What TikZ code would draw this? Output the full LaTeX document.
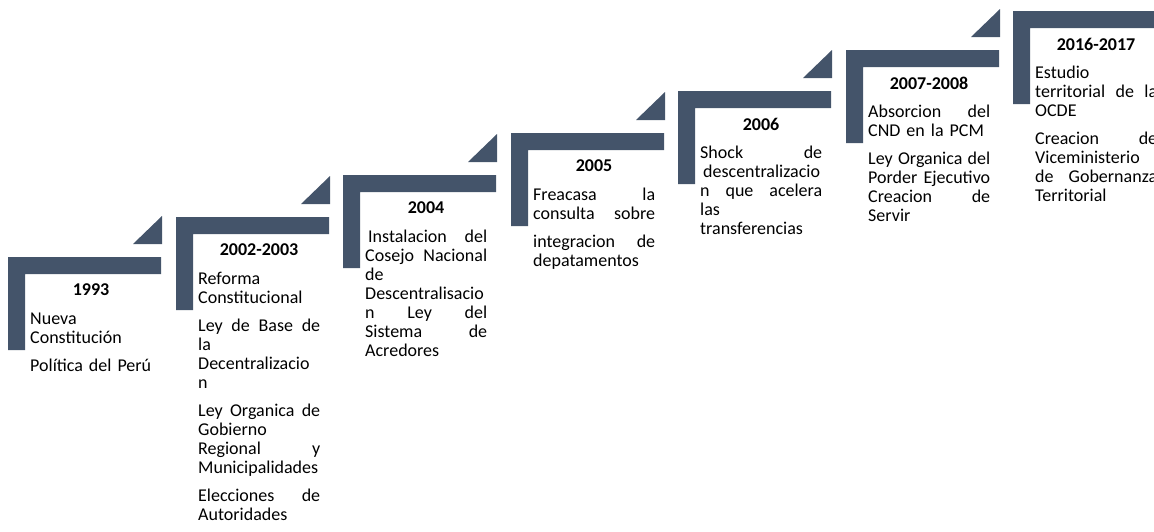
\documentclass[tikz,border=0pt]{standalone}
\usepackage{fontspec}
\setmainfont{Carlito}
\usepackage{xcolor}
\usepackage{tikz}
\definecolor{slate}{HTML}{44546A}

\begin{document}
\begin{tikzpicture}[
x=1pt, y=-1pt,
bar/.style={fill=slate},
tip/.style={fill=slate},
year/.style={inner sep=0, font=\fontsize{18}{19}\selectfont\bfseries},
body/.style={anchor=north west, inner sep=0, text width=122pt, align=left, font=\fontsize{18}{19}\selectfont}
]
\useasboundingbox (0,0) rectangle (1154,531);
% stairs
\fill[bar] (8,257) -- ++(153,0) -- ++(0,17) -- ++(-136,0) -- ++(0,76) -- ++(-17,0) -- cycle;
\fill[bar] (176,217) -- ++(153,0) -- ++(0,17) -- ++(-136,0) -- ++(0,76) -- ++(-17,0) -- cycle;
\fill[bar] (343,175) -- ++(153,0) -- ++(0,17) -- ++(-136,0) -- ++(0,76) -- ++(-17,0) -- cycle;
\fill[bar] (511,133) -- ++(153,0) -- ++(0,17) -- ++(-136,0) -- ++(0,76) -- ++(-17,0) -- cycle;
\fill[bar] (678,91) -- ++(153,0) -- ++(0,17) -- ++(-136,0) -- ++(0,76) -- ++(-17,0) -- cycle;
\fill[bar] (846,50) -- ++(153,0) -- ++(0,17) -- ++(-136,0) -- ++(0,76) -- ++(-17,0) -- cycle;
\fill[bar] (1013,11) -- ++(153,0) -- ++(0,17) -- ++(-136,0) -- ++(0,76) -- ++(-17,0) -- cycle;
% corner triangles
\fill[tip] (133,244) -- ++(29,0) -- ++(0,-28) -- cycle;
\fill[tip] (301,204) -- ++(29,0) -- ++(0,-28) -- cycle;
\fill[tip] (468,162) -- ++(29,0) -- ++(0,-28) -- cycle;
\fill[tip] (636,120) -- ++(29,0) -- ++(0,-28) -- cycle;
\fill[tip] (803,78) -- ++(29,0) -- ++(0,-28) -- cycle;
\fill[tip] (971,37) -- ++(29,0) -- ++(0,-28) -- cycle;
% years
\node[year] (y1993) at (91,290) {1993};
\node[year] (y2002) at (259,250) {2002-2003};
\node[year] (y2004) at (426,208) {2004};
\node[year] (y2005) at (594,166) {2005};
\node[year] (y2006) at (761,124) {2006};
\node[year] (y2007) at (929,83) {2007-2008};
\node[year] (y2016) at (1096,44) {2016-2017};
% texts
\node[body] (t1993) at (30,311) {\strut Nueva\\ Constitución\\[9pt] Política del Perú};
\node[body] (t2002) at (198,271) {\strut Reforma\\ Constitucional\\[9pt] Ley\hfill de\hfill Base\hfill de\\ la\\ Decentralizacio\\ n\\[9pt] Ley\hfill Organica\hfill de\\ Gobierno\\ Regional\hfill y\\ Municipalidades\\[9pt] Elecciones\hfill de\\ Autoridades};
\node[body] (t2004) at (365,229) {\strut\hspace*{3pt}Instalacion\hfill del\\ Cosejo\hfill Nacional\\ de\\ Descentralisacio\\ n\hfill Ley\hfill del\\ Sistema\hfill de\\ Acredores};
\node[body] (t2005) at (533,187) {\strut Freacasa\hfill la\\ consulta\hfill sobre\\[9pt] integracion\hfill de\\ depatamentos};
\node[body] (t2006) at (700,145) {\strut Shock\hfill de\\ \hspace*{3pt}descentralizacio\\ n\hfill que\hfill acelera\\ las\\ transferencias};
\node[body] (t2007) at (868,104) {\strut Absorcion\hfill del\\ CND en la PCM\\[9pt] Ley\hfill Organica\hfill del\\ Porder\hfill Ejecutivo\\ Creacion\hfill de\\ Servir};
\node[body] (t2016) at (1035,65) {\strut Estudio\\ territorial\hfill de\hfill la\\ OCDE\\[9pt] Creacion\hfill de\\ Viceministerio\\ de\hfill Gobernanza\\ Territorial};
\end{tikzpicture}
\end{document}
